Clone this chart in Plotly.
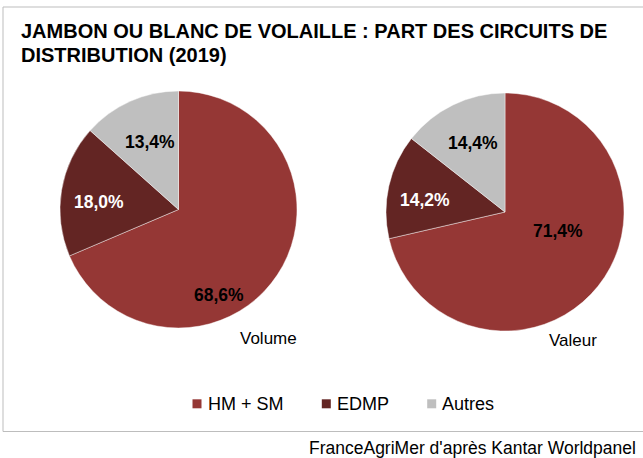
import math
import plotly.graph_objects as go

# Circuits de distribution et parts (%) par indicateur
circuits = ["HM + SM", "EDMP", "Autres"]
volume = [68.6, 18.0, 13.4]
valeur = [71.4, 14.2, 14.4]
pie_titles = ["Volume", "Valeur"]

colors = ["#953735", "#632523", "#BFBFBF"]
label_colors = ["#000000", "#FFFFFF", "#000000"]

W, H = 643, 458
FONT = "Liberation Sans, Arial, sans-serif"

# Pie geometry in pixels: centre x, centre y, radius
pie_geom = [(178.5, 209.5, 118.5), (505.0, 212.0, 119.0)]
# Label placement per slice: (angle shift in degrees, fraction of radius)
label_place = [
    [(31, 0.80), (-4, 0.67), (1, 0.62)],
    [(-19, 0.47), (-4, 0.68), (1, 0.64)],
]
# Caption position (pixels) under each pie
caption_pos = [(268.5, 338.0), (573.0, 340.0)]

# Legend key layout (pixels): square centres, text starts, row centre, square size
legend_key_x = [197.0, 326.3, 431.7]
legend_text_x = [205.5, 335.0, 439.5]
legend_y = 403.8
legend_size = 9.0

fig = go.Figure()
annotations = []
shapes = []


def px_x(x):
    return x / W


def px_y(y):
    return 1 - y / H


for k, values in enumerate([volume, valeur]):
    cx, cy, r = pie_geom[k]
    fig.add_trace(go.Pie(
        labels=circuits,
        values=values,
        sort=False,
        direction="clockwise",
        rotation=0,
        marker=dict(colors=colors, line=dict(color="rgba(255,255,255,0.55)", width=0.8)),
        textinfo="none",
        hoverinfo="label+value",
        showlegend=False,
        domain=dict(x=[px_x(cx - r), px_x(cx + r)],
                    y=[px_y(cy + r), px_y(cy - r)]),
    ))

    total = sum(values)
    start = 0.0
    for i, v in enumerate(values):
        span = 360.0 * v / total
        mid = start + span / 2
        start += span
        shift, frac = label_place[k][i]
        ang = math.radians(mid + shift)
        lx = cx + frac * r * math.sin(ang)
        ly = cy - frac * r * math.cos(ang)
        annotations.append(dict(
            x=px_x(lx), y=px_y(ly), xref="paper", yref="paper",
            text=f"<b>{v:.1f}%</b>".replace(".", ","),
            showarrow=False, xanchor="center", yanchor="middle",
            font=dict(family=FONT, size=17.5, color=label_colors[i]),
        ))

    tx, ty = caption_pos[k]
    annotations.append(dict(
        x=px_x(tx), y=px_y(ty), xref="paper", yref="paper",
        text=pie_titles[k], showarrow=False,
        xanchor="center", yanchor="middle",
        font=dict(family=FONT, size=17, color="#000000"),
    ))

# Legend: coloured keys and names
for i, name in enumerate(circuits):
    kx = legend_key_x[i]
    h = legend_size / 2
    shapes.append(dict(
        type="rect", xref="paper", yref="paper",
        x0=px_x(kx - h), x1=px_x(kx + h),
        y0=px_y(legend_y + h), y1=px_y(legend_y - h),
        line=dict(width=0), fillcolor=colors[i],
    ))
    annotations.append(dict(
        x=px_x(legend_text_x[i]), y=px_y(legend_y + 0.5), xref="paper", yref="paper",
        text=name, showarrow=False, xanchor="left", yanchor="middle",
        font=dict(family=FONT, size=18, color="#000000"),
    ))

# Title, two lines
title_lines = ["JAMBON OU BLANC DE VOLAILLE : PART DES CIRCUITS DE", "DISTRIBUTION (2019)"]
for j, line in enumerate(title_lines):
    annotations.append(dict(
        x=px_x(19), y=px_y(31.5 + 23.2 * j), xref="paper", yref="paper",
        text=f"<b>{line}</b>", showarrow=False,
        xanchor="left", yanchor="middle", align="left",
        font=dict(family=FONT, size=20, color="#000000"),
    ))

# Source
annotations.append(dict(
    x=px_x(638), y=px_y(448), xref="paper", yref="paper",
    text="FranceAgriMer d'après Kantar Worldpanel",
    showarrow=False, xanchor="right", yanchor="middle",
    font=dict(family=FONT, size=17.5, color="#000000"),
))

# Chart frame (open on the right edge)
shapes.append(dict(
    type="rect", xref="paper", yref="paper",
    x0=px_x(3), x1=1.05, y0=px_y(431.5), y1=px_y(7),
    line=dict(color="#BDBDBD", width=1), fillcolor="rgba(0,0,0,0)",
    layer="below",
))

fig.update_layout(
    width=W, height=H,
    margin=dict(l=0, r=0, t=0, b=0),
    paper_bgcolor="#FFFFFF",
    plot_bgcolor="#FFFFFF",
    annotations=annotations,
    shapes=shapes,
    showlegend=False,
)

fig.write_html("out.html")
